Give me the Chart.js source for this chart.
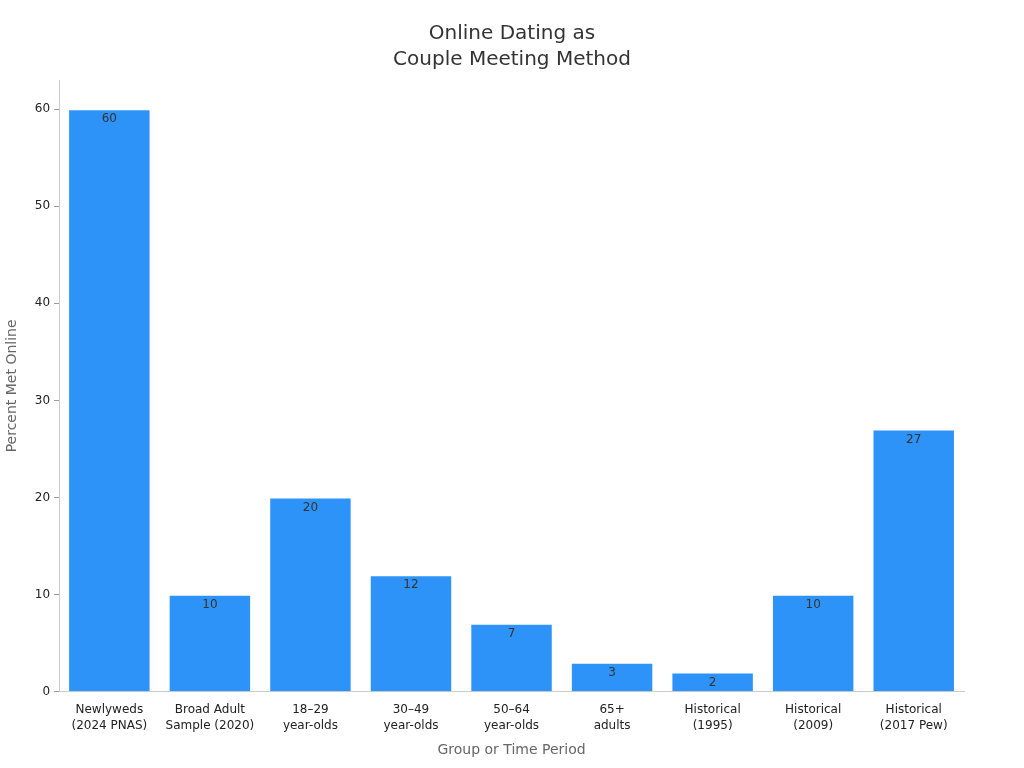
<!DOCTYPE html>
<html><head><meta charset="utf-8">
<script src="https://cdn.jsdelivr.net/npm/chart.js@4/dist/chart.umd.min.js"></script>
<style>html,body{margin:0;padding:0;background:#fff}#wrap{width:1024px;height:768px}</style>
</head><body><div id="wrap"><canvas id="c"></canvas></div>
<script>
const categories = [["Newlyweds","(2024 PNAS)"],["Broad Adult","Sample (2020)"],["18–29","year-olds"],["30–49","year-olds"],["50–64","year-olds"],["65+","adults"],["Historical","(1995)"],["Historical","(2009)"],["Historical","(2017 Pew)"]];
const values = [60,10,20,12,7,3,2,10,27];
const yTicks = [0,10,20,30,40,50,60];
const titleLines = ['Online Dating as','Couple Meeting Method'];

const labelPlugin = {
  id:'lbl',
  afterDatasetsDraw(chart){
    const ctx=chart.ctx, meta=chart.getDatasetMeta(0);
    ctx.save();
    ctx.font='12px "DejaVu Sans"';ctx.fillStyle='#333';ctx.textAlign='center';ctx.textBaseline='top';
    meta.data.forEach((b,i)=>{ctx.fillText(String(values[i]),b.x,b.y+4);});
    ctx.font='20px "DejaVu Sans"';ctx.textBaseline='middle';
    titleLines.forEach((t,i)=>ctx.fillText(t,chart.width/2,34+i*26));
    ctx.restore();
  }
};

new Chart(document.getElementById('c'),{
  type:'bar',
  data:{labels:categories,datasets:[{data:values,backgroundColor:'#2E93F9',borderColor:'#ffffff',borderWidth:1,categoryPercentage:1,barPercentage:0.82}]},
  options:{
    responsive:true,maintainAspectRatio:false,animation:false,
    layout:{padding:{left:0,right:60,top:80,bottom:5}},
    plugins:{legend:{display:false},tooltip:{enabled:false},title:{display:false}},
    scales:{
      x:{grid:{display:false},border:{color:'#ccc'},
        ticks:{color:'#222',font:{family:'DejaVu Sans',size:12,lineHeight:1.35},maxRotation:0,autoSkip:false,padding:2},
        title:{display:true,text:'Group or Time Period',color:'#666',font:{family:'DejaVu Sans',size:14},padding:{top:6,bottom:4}}},
      y:{min:0,max:63,afterBuildTicks:a=>{a.ticks=yTicks.map(v=>({value:v}));},
        grid:{display:true,drawOnChartArea:false,drawTicks:true,tickLength:5,tickColor:'#999',color:'transparent'},border:{color:'#ccc'},
        ticks:{color:'#222',font:{family:'DejaVu Sans',size:12},padding:4},
        title:{display:true,text:'Percent Met Online',color:'#666',font:{family:'DejaVu Sans',size:14},padding:{bottom:10}}}
    }
  },
  plugins:[labelPlugin]
});
</script></body></html>
